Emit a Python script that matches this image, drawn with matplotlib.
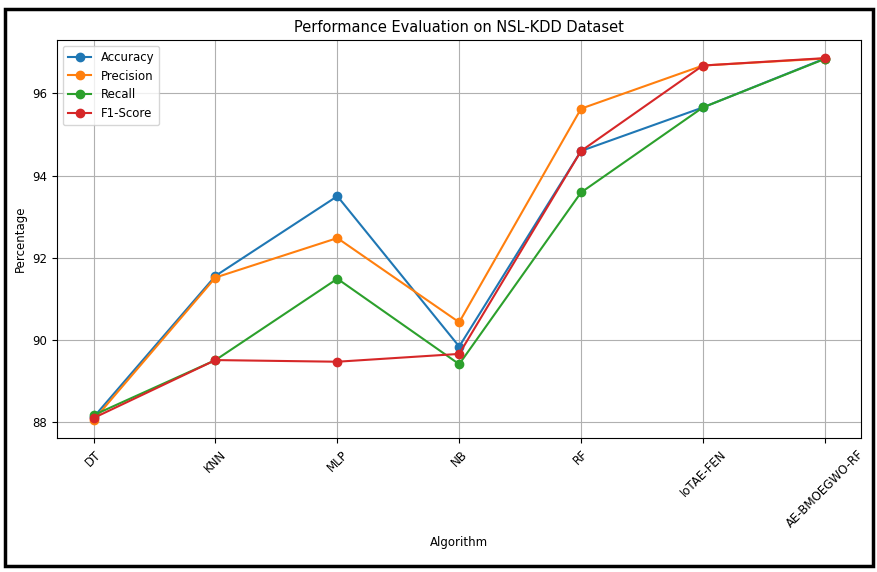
import matplotlib
matplotlib.use("Agg")
import matplotlib.pyplot as plt
from matplotlib.patches import Rectangle

algorithms = ["DT", "KNN", "MLP", "NB", "RF", "IoTAE-FEN", "AE-BMOEGWO-RF"]
accuracy = [88.12, 91.56, 93.50, 89.84, 94.60, 95.66, 96.85]
precision = [88.05, 91.52, 92.48, 90.43, 95.63, 96.68, 96.85]
recall = [88.17, 89.51, 91.49, 89.41, 93.59, 95.66, 96.84]
f1_score = [88.10, 89.51, 89.47, 89.66, 94.60, 96.68, 96.86]

fig = plt.figure(figsize=(8.78, 5.72), dpi=100)
ax = fig.add_axes([0.065, 0.234, 0.916, 0.696])

ax.plot(algorithms, accuracy, marker="o", ms=6, lw=1.5, label="Accuracy")
ax.plot(algorithms, precision, marker="o", ms=6, lw=1.5, label="Precision")
ax.plot(algorithms, recall, marker="o", ms=6, lw=1.5, label="Recall")
ax.plot(algorithms, f1_score, marker="o", ms=6, lw=1.5, label="F1-Score")

ax.set_title("Performance Evaluation on NSL-KDD Dataset", fontsize=10.5)
ax.set_xlabel("Algorithm", fontsize=8.5)
ax.set_ylabel("Percentage", fontsize=8.5)
ax.tick_params(labelsize=8.5)
plt.setp(ax.get_xticklabels(), rotation=45)
ax.grid(True, color="#b0b0b0", lw=0.8)
ax.legend(loc="upper left", fontsize=8.5)

# black frame around the whole figure
fig.patches.append(Rectangle((0.006, 0.01), 0.988, 0.975, transform=fig.transFigure,
                             fill=False, edgecolor="black", lw=2.5))

fig.savefig("out.png", dpi=100)
